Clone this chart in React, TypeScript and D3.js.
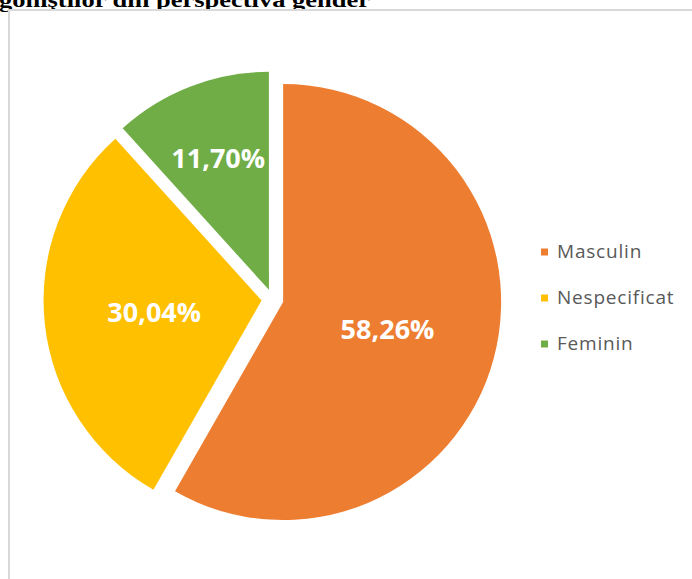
import React from "react";
import * as d3 from "d3";

const categories = ["Masculin", "Nespecificat", "Feminin"];
const values = [58.26, 30.04, 11.7];
const labels = ["58,26%", "30,04%", "11,70%"];
const colors = ["#ED7D31", "#FFC000", "#70AD47"];
const titleText = "goniştilor din perspectiva gender";

const W = 692;
const H = 579;
const CX = 272.5;
const CY = 299.2;
const R = 218;
const EXPLODE = [11, 11, 10];
const LABEL_R = [108, 108, 141];

export default function App() {
  const pie = d3
    .pie<number>()
    .sort(null)
    .value((d) => d)
    .startAngle(0)
    .endAngle(2 * Math.PI);
  const arcs = pie(values);
  const arcGen = d3.arc<d3.PieArcDatum<number>>().innerRadius(0).outerRadius(R);

  return (
    <svg
      width={W}
      height={H}
      style={{ position: "absolute", left: 0, top: 0, background: "#fff" }}
    >
      <text
        x={-1}
        y={7}
        fontFamily="'Liberation Serif', 'Times New Roman', serif"
        fontWeight="bold"
        fontSize={21}
        textLength={371}
        lengthAdjust="spacingAndGlyphs"
        fill="#000"
      >
        {titleText}
      </text>
      <rect x={9} y={10} width={W + 20} height={H + 20} fill="#fff" stroke="#d9d9d9" strokeWidth={2} />
      {arcs.map((a, i) => {
        const mid = (a.startAngle + a.endAngle) / 2;
        const dx = Math.sin(mid) * EXPLODE[i];
        const dy = -Math.cos(mid) * EXPLODE[i];
        const lx = Math.sin(mid) * LABEL_R[i];
        const ly = -Math.cos(mid) * LABEL_R[i];
        return (
          <g key={categories[i]} transform={`translate(${CX + dx},${CY + dy})`}>
            <path d={arcGen(a) || ""} fill={colors[i]} />
            <text
              x={lx}
              y={ly}
              dy="0.36em"
              textAnchor="middle"
              fill="#fff"
              fontFamily="'Open Sans', sans-serif"
              fontWeight="bold"
              fontSize={27}
            >
              {labels[i]}
            </text>
          </g>
        );
      })}
      {categories.map((c, i) => (
        <g key={c} transform={`translate(541,${258 + i * 46})`}>
          <rect x={0} y={-9.5} width={7} height={7} fill={colors[i]} />
          <text
            x={16}
            y={0}
            fill="#595959"
            fontFamily="'Open Sans', sans-serif"
            fontSize={19}
            letterSpacing={0.8}
          >
            {c}
          </text>
        </g>
      ))}
    </svg>
  );
}
